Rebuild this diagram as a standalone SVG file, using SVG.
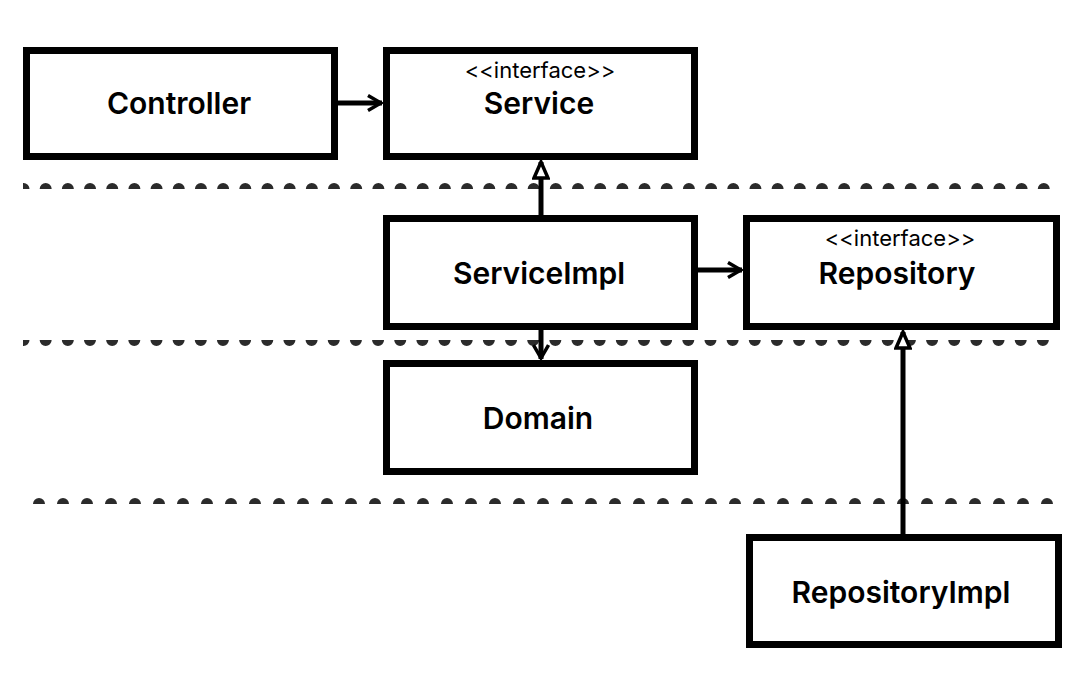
<svg xmlns="http://www.w3.org/2000/svg" width="1088" height="686" viewBox="0 0 1088 686">
  <style>
    .box { fill: #ffffff; stroke: #000000; stroke-width: 7; }
    .name { font-family: Inter, "Noto Sans", "Liberation Sans", sans-serif; font-weight: 600; font-size: 30px; fill: #000000; text-anchor: middle; }
    .stereo { font-family: Inter, "Noto Sans", "Liberation Sans", sans-serif; font-weight: 400; font-size: 22px; fill: #000000; text-anchor: middle; }
    .sep { fill: none; stroke: #2b2b2b; stroke-width: 12; stroke-linecap: round; }
    .edge { fill: none; stroke: #000000; stroke-width: 5; }
  </style>
  <defs>
    <clipPath id="clip1"><rect x="23" y="170" width="1040" height="19"/></clipPath>
    <clipPath id="clip2"><rect x="23" y="340" width="1037" height="19"/></clipPath>
    <clipPath id="clip3"><rect x="23" y="490" width="1040" height="14"/></clipPath>
    <marker id="arrow" viewBox="0 0 16 18" refX="15" refY="9" markerWidth="16" markerHeight="18" markerUnits="userSpaceOnUse" orient="auto">
      <path d="M1,1.5 L14,9 L1,16.5" fill="none" stroke="#000000" stroke-width="3.5" stroke-linejoin="miter"/>
    </marker>
    <marker id="triangle" viewBox="0 0 20 18" refX="18" refY="9" markerWidth="20" markerHeight="18" markerUnits="userSpaceOnUse" orient="auto">
      <path d="M2,2 L18,9 L2,16 Z" fill="#ffffff" stroke="#000000" stroke-width="3.5" stroke-linejoin="miter"/>
    </marker>
  </defs>
  <rect width="1088" height="686" fill="#ffffff"/>

  <g id="separators">
    <line class="sep" x1="23.5" y1="189" x2="1044.5" y2="189" stroke-dasharray="0 22.18" clip-path="url(#clip1)"/>
    <line class="sep" x1="23.5" y1="340" x2="1065" y2="340" stroke-dasharray="0 22.16" clip-path="url(#clip2)"/>
    <line class="sep" x1="39" y1="504" x2="1048" y2="504" stroke-dasharray="0 24" clip-path="url(#clip3)"/>
  </g>

  <g id="connectors">
    <line class="edge" x1="338" y1="103" x2="382" y2="103" marker-end="url(#arrow)"/>
    <line class="edge" x1="541" y1="215" x2="541" y2="162" marker-end="url(#triangle)"/>
    <line class="edge" x1="698" y1="270" x2="742" y2="270" marker-end="url(#arrow)"/>
    <line class="edge" x1="541" y1="330" x2="541" y2="359" marker-end="url(#arrow)"/>
    <line class="edge" x1="903" y1="534" x2="903" y2="332" marker-end="url(#triangle)"/>
  </g>

  <g id="controller">
    <rect class="box" x="26.5" y="50.5" width="308" height="106"/>
    <text class="name" x="179" y="114">Controller</text>
  </g>
  <g id="service">
    <rect class="box" x="386.5" y="50.5" width="308" height="106"/>
    <text class="stereo" x="540" y="78">&lt;&lt;interface&gt;&gt;</text>
    <text class="name" x="539" y="114">Service</text>
  </g>
  <g id="serviceimpl">
    <rect class="box" x="386.5" y="218.5" width="308" height="108"/>
    <text class="name" x="539" y="284">ServiceImpl</text>
  </g>
  <g id="repository">
    <rect class="box" x="746.5" y="218.5" width="310" height="108"/>
    <text class="stereo" x="900" y="246">&lt;&lt;interface&gt;&gt;</text>
    <text class="name" x="897" y="284">Repository</text>
  </g>
  <g id="domain">
    <rect class="box" x="386.5" y="363.5" width="308" height="108"/>
    <text class="name" x="538" y="429">Domain</text>
  </g>
  <g id="repositoryimpl">
    <rect class="box" x="749.5" y="537.5" width="309" height="107"/>
    <text class="name" x="901" y="603">RepositoryImpl</text>
  </g>
</svg>
